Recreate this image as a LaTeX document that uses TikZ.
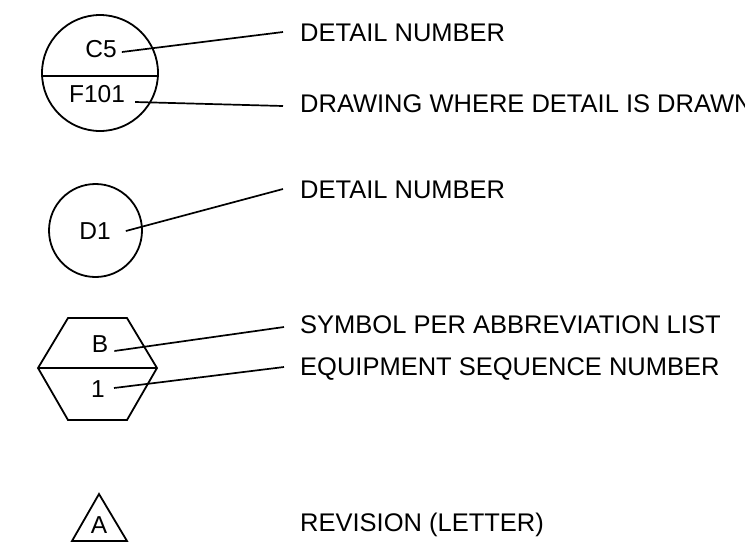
\documentclass[tikz,border=0pt]{standalone}
\usepackage{fontspec}
\usepackage{tikz}
\usetikzlibrary{positioning, calc}
\newfontfamily\legendfont{Liberation Sans}

\tikzset{
  symline/.style={line width=1.8pt, line join=miter},
  leader/.style={line width=1.7pt},
  callout/.style={anchor=base west, inner sep=0pt, font=\legendfont\fontsize{25.5}{30}\selectfont},
  tagtext/.style={anchor=base, inner sep=0pt, font=\legendfont\fontsize{24.5}{29}\selectfont}
}

\begin{document}
\begin{tikzpicture}[x=1pt, y=-1pt]
  % Page frame (text at the right edge is cut off)
  \useasboundingbox (0,0) rectangle (745,550);
  \clip (0,0) rectangle (745,550);
  \fill[white] (0,0) rectangle (745,550);

  % Detail section symbol: split circle
  \draw[symline] (100,73) circle (58);
  \draw[symline] (42.1,76) -- (157.9,76);
  \node[tagtext] (c5) at (101,57) {C5};
  \node[tagtext] (f101) at (97,102) {F101};
  \node[callout] (detailA) at (300,41) {DETAIL NUMBER};
  \node[callout] (drawnon) at (300,112) {DRAWING WHERE DETAIL IS DRAWN};
  \draw[leader] ([shift={(5pt,5pt)}]c5.base east) -- ([shift={(-17pt,9pt)}]detailA.base west);
  \draw[leader] ([shift={(10pt,0pt)}]f101.base east) -- ([shift={(-17pt,6pt)}]drawnon.base west);

  % Detail symbol: plain circle
  \draw[symline] (95.5,230.5) circle (46.5);
  \node[tagtext] (d1) at (95,239) {D1};
  \node[callout] (detailB) at (300,198) {DETAIL NUMBER};
  \draw[leader] ([shift={(15pt,8pt)}]d1.base east) -- ([shift={(-17pt,9pt)}]detailB.base west);

  % Equipment tag: split hexagon
  \draw[symline] (68,318) -- (127,318) -- (157,368) -- (127,420) -- (68,420) -- (38,368) -- cycle;
  \draw[symline] (38,368) -- (157,368);
  \node[tagtext] (sym) at (100,352) {B};
  \node[tagtext] (seq) at (98,397) {1};
  \node[callout] (abbrev) at (300,333) {SYMBOL PER ABBREVIATION LIST};
  \node[callout] (seqno) at (300,375) {EQUIPMENT SEQUENCE NUMBER};
  \draw[leader] ([shift={(6pt,1pt)}]sym.base east) -- ([shift={(-16pt,6pt)}]abbrev.base west);
  \draw[leader] ([shift={(9pt,9pt)}]seq.base east) -- ([shift={(-16pt,8pt)}]seqno.base west);

  % Revision triangle
  \draw[symline] (99,494) -- (127,541) -- (72,541) -- cycle;
  \node[tagtext] (rev) at (99,533) {A};
  \node[callout] (revtext) at (300,531) {REVISION (LETTER)};
\end{tikzpicture}
\end{document}
